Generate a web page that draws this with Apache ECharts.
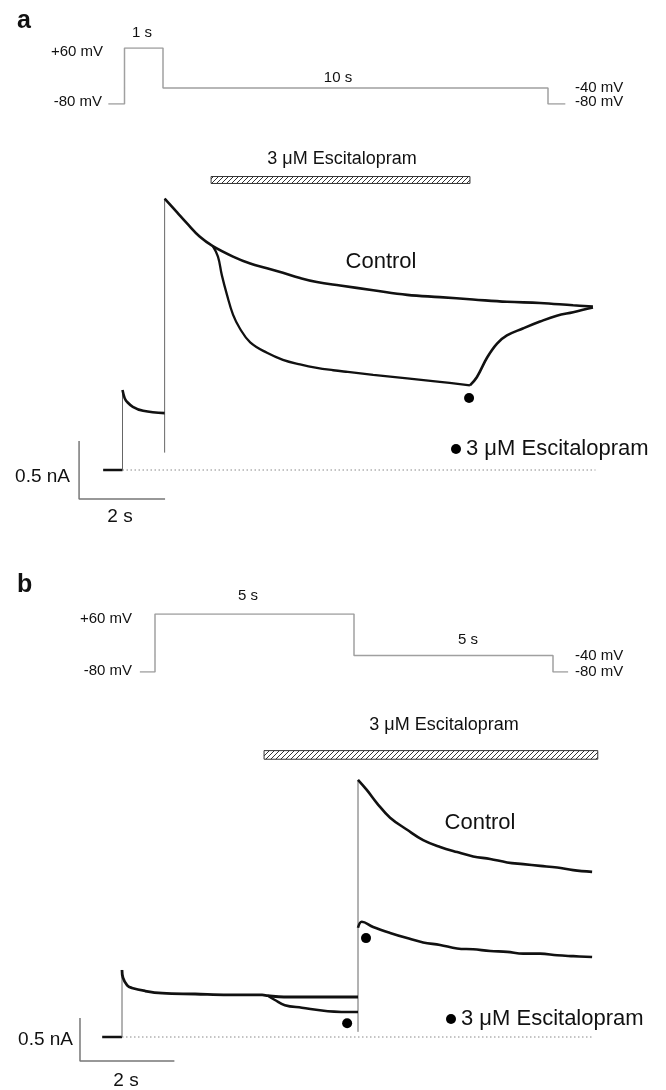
<!DOCTYPE html>
<html>
<head>
<meta charset="utf-8">
<script src="https://cdn.jsdelivr.net/npm/echarts@6/dist/echarts.min.js"></script>
<style>
  html, body { margin: 0; padding: 0; background: #fff; }
  #main { width: 666px; height: 1090px; }
</style>
</head>
<body>
<div id="main"></div>
<script>
// ---------- panel a ----------
// voltage protocol as drawn (schematic s / mV)
var protoA = [[-0.42, -80], [0, -80], [0, 60], [1, 60], [1, -40], [11, -40], [11, -80], [11.45, -80]];
// currents (s / nA)
var holdA = [[-0.45, 0], [0, 0]];
var jumpA1 = [[0, 0], [0, 0.69]];
var stepA = [[0, 0.69], [0.05, 0.62], [0.10, 0.59], [0.24, 0.545], [0.48, 0.51], [0.98, 0.49]];
var jumpA2 = [[0.98, 0.15], [0.98, 2.34]];
var controlA = [[0.98, 2.34], [1.27, 2.22], [1.49, 2.13], [1.80, 2.01], [2.10, 1.93], [2.57, 1.84], [2.97, 1.78],
  [3.36, 1.74], [3.73, 1.70], [4.13, 1.655], [4.52, 1.62], [5.06, 1.59], [5.83, 1.55], [6.62, 1.51], [7.38, 1.49],
  [8.15, 1.47], [8.94, 1.45], [9.71, 1.44], [10.48, 1.42], [10.94, 1.41]];
var escA = [[2.10, 1.93], [2.22, 1.84], [2.31, 1.68], [2.43, 1.51], [2.57, 1.34], [2.73, 1.22], [2.97, 1.10],
  [3.36, 1.01], [3.73, 0.95], [4.13, 0.91], [4.52, 0.88], [4.90, 0.86], [5.24, 0.845], [5.83, 0.82], [6.62, 0.79],
  [7.38, 0.76], [8.08, 0.73]];
var washA = [[8.08, 0.73], [8.24, 0.80], [8.48, 0.97], [8.71, 1.09], [8.94, 1.16], [9.31, 1.22], [9.71, 1.28],
  [10.10, 1.33], [10.48, 1.36], [10.94, 1.40]];
var dotsA = [[8.06, 0.62]];
var drugA = [2.06, 8.08];
var baseA = [[0, 0], [11, 0]];
var scaleA = [[-1.01, 0.25], [-1.01, -0.25], [0.99, -0.25]];

// ---------- panel b ----------
var protoB = [[-0.38, -80], [0, -80], [0, 60], [5, 60], [5, -40], [10, -40], [10, -80], [10.38, -80]];
var holdB = [[-0.42, 0], [0, 0]];
var jumpB1 = [[0, 0], [0, 0.78]];
var stepB = [[0, 0.78], [0.02, 0.69], [0.11, 0.60], [0.21, 0.57], [0.49, 0.535], [0.85, 0.51], [1.55, 0.50],
  [2.25, 0.49], [2.97, 0.49], [3.09, 0.48], [3.43, 0.465], [3.8, 0.465], [4.4, 0.465], [5.0, 0.465]];
var escPreB = [[3.09, 0.48], [3.24, 0.43], [3.45, 0.37], [3.81, 0.34], [4.36, 0.30], [5.0, 0.29]];
var jumpB2 = [[5.0, 0.06], [5.0, 2.99]];
var controlB = [[5.0, 2.99], [5.19, 2.87], [5.40, 2.72], [5.68, 2.55], [6.04, 2.41], [6.38, 2.29], [6.74, 2.21],
  [7.10, 2.15], [7.44, 2.10], [7.80, 2.07], [8.16, 2.03], [8.50, 2.01], [8.86, 1.99], [9.22, 1.97], [9.56, 1.94],
  [9.96, 1.92]];
var escB = [[5.0, 1.27], [5.08, 1.34], [5.32, 1.28], [5.68, 1.21], [6.04, 1.15], [6.38, 1.10], [6.74, 1.07],
  [7.10, 1.03], [7.44, 1.02], [7.80, 1.00], [8.16, 0.99], [8.50, 0.97], [8.86, 0.97], [9.22, 0.95], [9.56, 0.94],
  [9.96, 0.93]];
var dotsB = [[4.77, 0.16], [5.17, 1.15]];
var drugB = [3.01, 10.08];
var baseB = [[0, 0], [10, 0]];
var scaleB = [[-0.89, 0.22], [-0.89, -0.28], [1.11, -0.28]];

var drugName = '3 \u03bcM Escitalopram';
var FONT = '"Liberation Sans", Arial, sans-serif';

// hatch pattern for the drug bar
var hc = document.createElement('canvas');
hc.width = 5; hc.height = 5;
var g = hc.getContext('2d');
g.fillStyle = '#fff'; g.fillRect(0, 0, 5, 5);
g.strokeStyle = '#333'; g.lineWidth = 1;
g.beginPath();
g.moveTo(0, 5); g.lineTo(5, 0);
g.moveTo(-1, 1); g.lineTo(1, -1);
g.moveTo(4, 6); g.lineTo(6, 4);
g.stroke();
var hatch = { image: hc, repeat: 'repeat' };

function line(data, idx, width, color, extra) {
  var s = {
    type: 'line', data: data, xAxisIndex: idx, yAxisIndex: idx,
    symbol: 'none', silent: true,
    itemStyle: { color: color },
    lineStyle: { width: width, color: color }
  };
  if (extra) for (var k in extra) s[k] = extra[k];
  return s;
}

// recorded traces
function trace(data, idx, width, name) {
  return line(data, idx, width, '#111', { name: name, smooth: 0.4 });
}

function drugBar(range, idx, lo, hi) {
  return {
    type: 'custom', xAxisIndex: idx, yAxisIndex: idx, silent: true,
    data: [range], encode: { x: [0, 1] },
    renderItem: function (params, api) {
      var p0 = api.coord([api.value(0), hi]);
      var p1 = api.coord([api.value(1), lo]);
      return {
        type: 'rect',
        shape: { x: p0[0], y: p0[1], width: p1[0] - p0[0], height: p1[1] - p0[1] },
        style: { fill: hatch, stroke: '#333', lineWidth: 1 }
      };
    }
  };
}

function dots(data, idx) {
  return {
    type: 'scatter', name: drugName, data: data, xAxisIndex: idx, yAxisIndex: idx,
    symbolSize: 10, itemStyle: { color: '#000', opacity: 1 }, silent: true
  };
}

function txt(s, x, y, size, align, bold) {
  return {
    type: 'text', silent: true,
    style: {
      text: s, x: x, y: y, fill: '#111',
      font: (bold ? 'bold ' : '') + size + 'px ' + FONT,
      align: align || 'left', verticalAlign: 'bottom'
    }
  };
}

function ax(min, max, gi) {
  return { type: 'value', min: min, max: max, show: false, gridIndex: gi };
}

function legendAt(left, top) {
  return {
    data: [{ name: drugName, icon: 'circle', itemStyle: { color: '#000' } }], left: left, top: top,
    itemWidth: 10, itemHeight: 10, padding: 0, selectedMode: false,
    textStyle: { fontSize: 22, color: '#111', fontFamily: FONT }
  };
}

var chart = echarts.init(document.getElementById('main'), null, { renderer: 'canvas' });

var option = {
  animation: false,
  backgroundColor: '#fff',
  color: ['#111'],
  grid: [
    { left: 86, top: 48, width: 500.5, height: 56 },
    { left: 58, top: 156.8, width: 602, height: 371.2 },
    { left: 115.2, top: 614, width: 477.6, height: 58 },
    { left: 51.2, top: 736, width: 613.6, height: 335.4 }
  ],
  xAxis: [ax(-1, 12, 0), ax(-1.5, 12.5, 1), ax(-1, 11, 2), ax(-1.5, 11.5, 3)],
  yAxis: [ax(-80, 60, 0), ax(-0.5, 2.7, 1), ax(-80, 60, 2), ax(-0.4, 3.5, 3)],
  legend: [legendAt(451, 438), legendAt(446, 1008)],
  series: [
    // panel a
    line(protoA, 0, 1.5, '#a0a0a0'),
    line(baseA, 1, 1, '#888', { lineStyle: { width: 1, color: '#888', type: [1.5, 2.5] } }),
    line(scaleA, 1, 1.5, '#777'),
    line(holdA, 1, 2.5, '#111'),
    line(jumpA1, 1, 1, '#666'),
    line(jumpA2, 1, 1, '#666'),
    trace(stepA, 1, 2.6),
    trace(controlA, 1, 2.6, 'Control'),
    trace(escA, 1, 2.3),
    trace(washA, 1, 2.6),
    drugBar(drugA, 1, 2.47, 2.53),
    dots(dotsA, 1),
    // panel b
    line(protoB, 2, 1.5, '#a0a0a0'),
    line(baseB, 3, 1, '#888', { lineStyle: { width: 1, color: '#888', type: [1.5, 2.5] } }),
    line(scaleB, 3, 1.5, '#777'),
    line(holdB, 3, 2.5, '#111'),
    line(jumpB1, 3, 1, '#666'),
    line(jumpB2, 3, 1, '#666'),
    trace(stepB, 3, 2.8),
    trace(escPreB, 3, 2.5),
    trace(controlB, 3, 2.6, 'Control'),
    trace(escB, 3, 2.6),
    drugBar(drugB, 3, 3.23, 3.33),
    dots(dotsB, 3)
  ],
  graphic: [
    // panel a
    txt('a', 17, 34, 25, 'left', true),
    txt('1 s', 142, 40, 15, 'center'),
    txt('+60 mV', 103, 59, 15, 'right'),
    txt('-80 mV', 102, 109, 15, 'right'),
    txt('10 s', 338, 85, 15, 'center'),
    txt('-40 mV', 575, 95, 15, 'left'),
    txt('-80 mV', 575, 109, 15, 'left'),
    txt(drugName, 342, 168, 18, 'center'),
    txt('Control', 381, 273, 22, 'center'),
    txt('0.5 nA', 70, 486, 19, 'right'),
    txt('2 s', 120, 526, 19, 'center'),
    // panel b
    txt('b', 17, 598, 25, 'left', true),
    txt('5 s', 248, 603, 15, 'center'),
    txt('+60 mV', 132, 626, 15, 'right'),
    txt('-80 mV', 132, 678, 15, 'right'),
    txt('5 s', 468, 647, 15, 'center'),
    txt('-40 mV', 575, 663, 15, 'left'),
    txt('-80 mV', 575, 679, 15, 'left'),
    txt(drugName, 444, 734, 18, 'center'),
    txt('Control', 480, 834, 22, 'center'),
    txt('0.5 nA', 73, 1049, 19, 'right'),
    txt('2 s', 126, 1090, 19, 'center')
  ]
};

chart.setOption(option);
</script>
</body>
</html>
